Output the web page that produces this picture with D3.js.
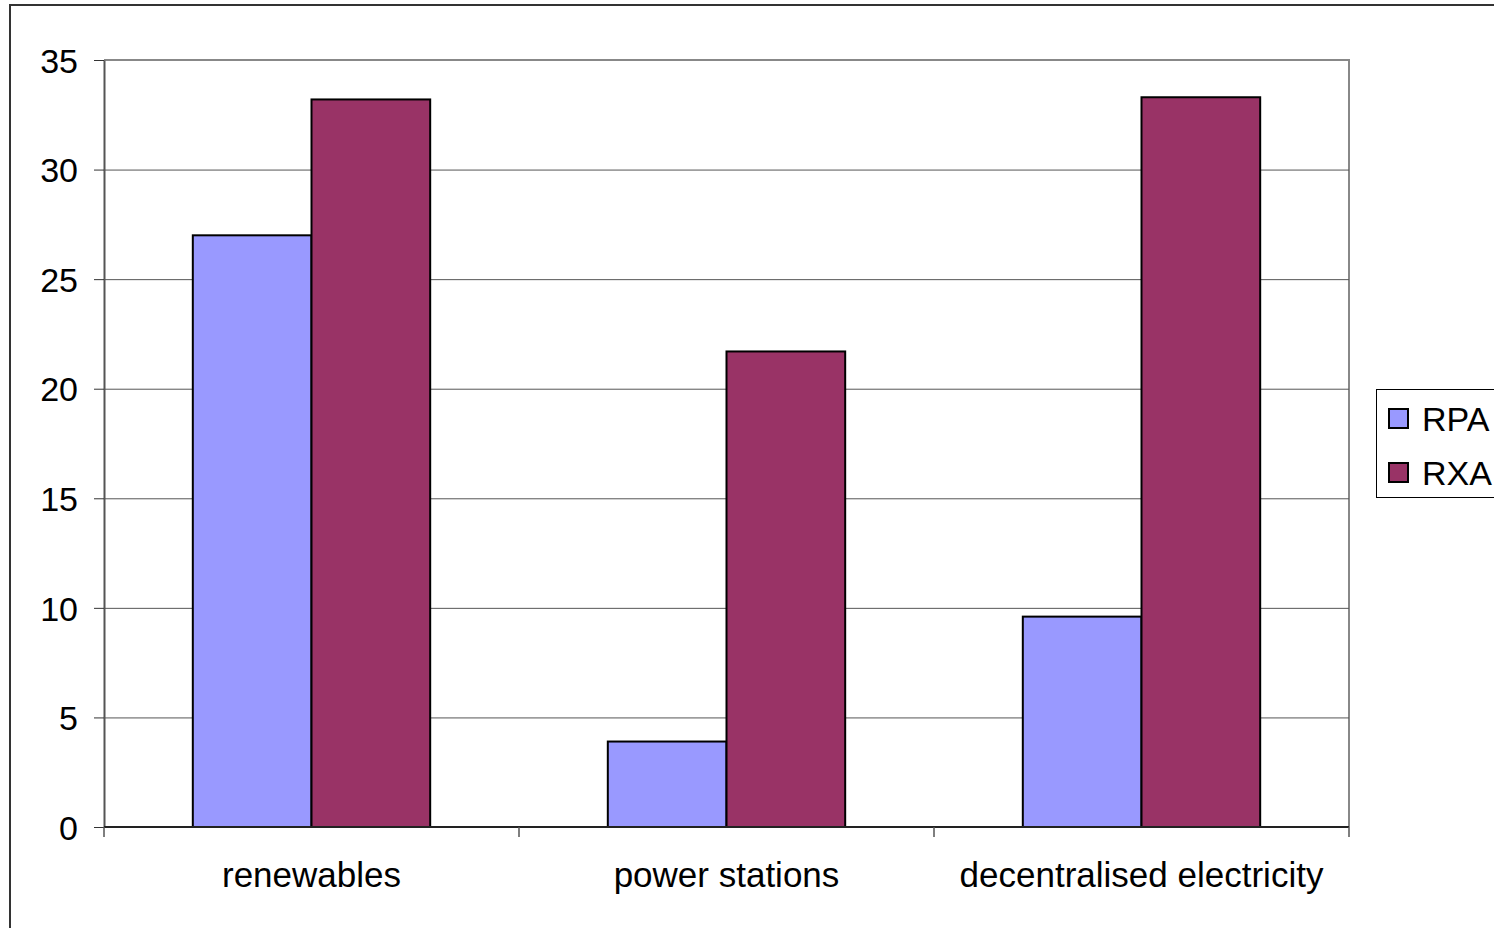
<!DOCTYPE html>
<html>
<head>
<meta charset="utf-8">
<script src="https://cdn.jsdelivr.net/npm/d3@7"></script>
<style>
  html, body { margin: 0; padding: 0; background: #fff; overflow: hidden; }
  text { font-family: "Liberation Sans", Arial, sans-serif; fill: #000; }
</style>
</head>
<body>
<svg id="chart" width="1494" height="928"></svg>
<script>
// Chart data
const categories = ["renewables", "power stations", "decentralised electricity"];
const seriesNames = ["RPA", "RXA"];
const rpaValues = [27, 3.9, 9.6];
const rxaValues = [33.2, 21.7, 33.3];
const yTicks = [0, 5, 10, 15, 20, 25, 30, 35];
const seriesColors = ["#9999FF", "#993366"];

const svg = d3.select("#chart");
const plot = { left: 104, top: 60, right: 1349, bottom: 827 };

// Outer chart frame (runs past the window on the right and bottom)
svg.append("rect")
  .attr("x", 10).attr("y", 5)
  .attr("width", 1600).attr("height", 1000)
  .attr("fill", "#fff").attr("stroke", "#333").attr("stroke-width", 2);

const x = d3.scaleBand().domain(categories).range([plot.left, plot.right]).padding(0);
const y = d3.scaleLinear().domain([0, 35]).range([plot.bottom, plot.top]);

// Plot area border on top and right
svg.append("path")
  .attr("d", `M${plot.left},${plot.top}H${plot.right}V${plot.bottom}`)
  .attr("fill", "none").attr("stroke", "#888").attr("stroke-width", 2);

// Horizontal gridlines
svg.append("g").selectAll("line")
  .data(yTicks.filter(t => t > 0 && t < 35))
  .join("line")
  .attr("x1", plot.left).attr("x2", plot.right)
  .attr("y1", d => y(d) + 0.5).attr("y2", d => y(d) + 0.5)
  .attr("stroke", "#555").attr("stroke-width", 1);

// Bars
const rows = categories.map((c, i) => ({ cat: c, vals: [rpaValues[i], rxaValues[i]] }));
const barW = x.bandwidth() * 0.286;
const groups = svg.append("g").selectAll("g").data(rows).join("g")
  .attr("transform", d => `translate(${x(d.cat) + x.bandwidth() / 2 - barW},0)`);
groups.selectAll("rect")
  .data(d => d.vals.map((v, j) => ({ v, j })))
  .join("rect")
  .attr("x", d => d.j * barW)
  .attr("y", d => y(d.v))
  .attr("width", barW)
  .attr("height", d => y(0) - y(d.v))
  .attr("fill", d => seriesColors[d.j])
  .attr("stroke", "#000").attr("stroke-width", 2);

// Y axis
const yAxis = svg.append("g")
  .attr("transform", `translate(${plot.left},0)`)
  .call(d3.axisLeft(y).tickValues(yTicks).tickSize(10).tickPadding(16).tickSizeOuter(0));
yAxis.select(".domain").attr("stroke", "#555").attr("stroke-width", 2);
yAxis.selectAll(".tick line").attr("stroke", "#333");
yAxis.selectAll("text").style("font-size", "34px").attr("dy", "0.36em");

// X axis with ticks at category boundaries
const xAxisG = svg.append("g").attr("transform", `translate(0,${plot.bottom})`);
xAxisG.append("line")
  .attr("x1", plot.left).attr("x2", plot.right)
  .attr("stroke", "#222").attr("stroke-width", 2);
const boundaries = categories.map(c => x(c)).concat([plot.right]);
xAxisG.selectAll("line.tick").data(boundaries).join("line")
  .attr("class", "tick")
  .attr("x1", d => d).attr("x2", d => d)
  .attr("y1", 0).attr("y2", 10)
  .attr("stroke", "#555").attr("stroke-width", 1.5);
xAxisG.selectAll("text").data(categories).join("text")
  .attr("x", d => x(d) + x.bandwidth() / 2)
  .attr("y", 60)
  .attr("text-anchor", "middle")
  .style("font-size", "35px")
  .text(d => d);

// Legend
const legend = svg.append("g");
legend.append("rect")
  .attr("x", 1376.5).attr("y", 389.5).attr("width", 130).attr("height", 108)
  .attr("fill", "#fff").attr("stroke", "#000").attr("stroke-width", 1);
seriesNames.forEach((name, i) => {
  const cy = 419 + i * 54;
  legend.append("rect")
    .attr("x", 1389).attr("y", cy - 10).attr("width", 19).attr("height", 19)
    .attr("fill", seriesColors[i]).attr("stroke", "#000").attr("stroke-width", 2);
  legend.append("text")
    .attr("x", 1422).attr("y", cy + 12)
    .style("font-size", "34px")
    .text(name);
});
</script>
</body>
</html>
